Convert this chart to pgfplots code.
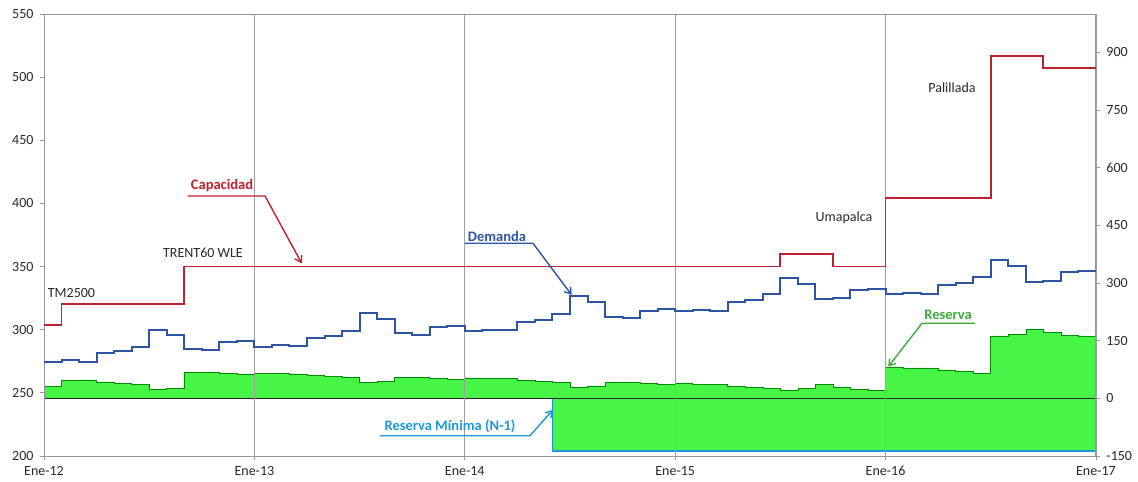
\documentclass[border=0pt]{standalone}
\usepackage{pgfplots}
\pgfplotsset{compat=1.18}
\usetikzlibrary{arrows.meta}
\usepackage{fontspec}
\setmainfont{Carlito}
\definecolor{capred}{RGB}{192,32,48}
\definecolor{demblue}{RGB}{46,84,166}
\definecolor{resgreen}{RGB}{70,245,70}
\definecolor{restext}{RGB}{60,170,60}
\definecolor{minblue}{RGB}{30,150,220}
\definecolor{axgray}{RGB}{150,150,150}
\definecolor{txt}{RGB}{40,40,40}

\pgfplotstableread{
m v
0 274.7
1 276
2 274.7
3 281.3
4 283.1
5 286.6
6 299.8
7 295.6
8 285
9 284
10 290.3
11 291.1
12 286.6
13 287.9
14 286.9
15 293.2
16 295
17 299.2
18 313
19 308.2
20 297.4
21 296
22 301.9
23 302.9
24 299.2
25 300
26 299.5
27 306.4
28 308
29 312.2
30 326.7
31 321.7
32 309.8
33 309
34 315
35 316.1
36 314.8
37 315.6
38 315
39 321.7
40 323.5
41 328.3
42 340.7
43 336.2
44 324.1
45 324.9
46 331.5
47 332.5
48 328
49 329.1
50 328.3
51 335.4
52 337.2
53 341.5
54 355.2
55 350.5
56 337.8
57 338.8
58 345.4
59 346.5
60 346.5
}\demanda

\pgfplotstableread{
m v
0 303.8
1 320.4
8 350
42 360
45 350
48 404
54 517
57 507
60 507
}\capacidad

\pgfplotstableread{
m v
0 30.4
1 45.9
2 47.8
3 42.6
4 39.1
5 35.6
6 23.5
7 26.9
8 66.8
9 67.7
10 65.1
11 63.4
12 65.1
13 64.3
14 63.4
15 59
16 57.4
17 53.7
18 40.7
19 44.4
20 54.8
21 54.8
22 51.2
23 49.6
24 53
25 51.2
26 51.2
27 47
28 44.4
29 40.7
30 28.8
31 32.2
32 41.8
33 40.7
34 38.1
35 37.3
36 38.1
37 37.3
38 36.5
39 31.4
40 29.5
41 25.1
42 21
43 25.1
44 37.3
45 29.5
46 22.5
47 21
48 80.8
49 79
50 79
51 73.8
52 70.3
53 65.1
54 162.3
55 167.4
56 179.7
57 170.9
58 164
59 162.3
60 162.3
}\reserva

\pgfplotstableread{
m v
0 0
29 -137
60 -137
}\resmin

\pgfplotstableread{
m v
29 -137
60 -137
}\resminfill

\begin{document}
\begin{tikzpicture}
% right axis: reserve
\begin{axis}[at={(0,0)}, anchor=south west, scale only axis,
  width=1052bp, height=442bp,
  xmin=0, xmax=60, ymin=-150, ymax=1000,
  axis x line=none, axis y line*=right,
  ytick={-150,0,150,300,450,600,750,900},
  y axis line style={draw=axgray, line width=1pt, -},
  tick align=outside, major tick length=4bp,
  tick style={axgray, line width=0.8pt},
  yticklabel style={font=\fontsize{14bp}{16bp}\selectfont, text=txt, xshift=3bp},
  /pgf/number format/assume math mode=true]
\addplot[const plot, fill=resgreen, draw=none] table[x=m,y=v] {\reserva} \closedcycle;
\addplot[const plot, fill=resgreen, draw=none] table[x=m,y=v] {\resminfill} \closedcycle;
\addplot[const plot, draw=green!55!black, line width=0.6pt] table[x=m,y=v] {\reserva};
\addplot[const plot, draw=minblue, line width=1.3pt] table[x=m,y=v] {\resmin};
\addplot[black!85, line width=1.6pt] coordinates {(0,0) (60,0)};
\end{axis}
% left axis: capacity and demand
\begin{axis}[at={(0,0)}, anchor=south west, scale only axis,
  width=1052bp, height=442bp,
  xmin=0, xmax=60, ymin=200, ymax=550,
  ytick={200,250,...,550},
  xtick={0,12,24,36,48,60},
  xticklabels={Ene-12,Ene-13,Ene-14,Ene-15,Ene-16,Ene-17},
  ytick pos=left, xtick pos=bottom,
  xmajorgrids, major grid style={axgray!90, line width=0.8pt},
  axis line style={draw=axgray, line width=1pt},
  tick align=outside, major tick length=4bp,
  tick style={axgray, line width=0.8pt},
  yticklabel style={font=\fontsize{14bp}{16bp}\selectfont, text=txt, xshift=-3bp},
  xticklabel style={font=\fontsize{14bp}{16bp}\selectfont, text=txt, yshift=-3bp},
  /pgf/number format/assume math mode=true]
\addplot[const plot, draw=demblue, line width=2pt] table[x=m,y=v] {\demanda};
\addplot[const plot, draw=capred, line width=1.8pt] table[x=m,y=v] {\capacidad};
\end{axis}
% annotations
\begin{scope}[x=1bp, y=1bp, font=\fontsize{14bp}{16bp}\selectfont]
\node[text=capred, font=\fontsize{14.5bp}{16bp}\selectfont\bfseries] at (178,270) {Capacidad};
\draw[capred, line width=1.4pt, -{Straight Barb[length=6bp,width=8bp]}] (144,260) -- (221,260) -- (257.7,192.7);
\node[text=txt] at (159,203) {TRENT60 WLE};
\node[text=txt] at (27.5,163) {TM2500};
\node[text=demblue, font=\fontsize{14.5bp}{16bp}\selectfont\bfseries] at (453,220) {Demanda};
\draw[demblue, line width=1.4pt, -{Straight Barb[length=6bp,width=8bp]}] (421,212.7) -- (489,212.7) -- (527.7,161);
\node[text=minblue, font=\fontsize{14.5bp}{16bp}\selectfont\bfseries] at (406,30) {Reserva Mínima (N-1)};
\draw[minblue, line width=1.4pt, -{Straight Barb[length=6bp,width=8bp]}] (336,20.3) -- (486,20.3) -- (508.7,46);
\node[text=txt] at (800,238) {Umapalca};
\node[text=txt] at (908,368) {Palillada};
\node[text=restext, font=\fontsize{14.5bp}{16bp}\selectfont\bfseries] at (904,141) {Reserva};
\draw[restext, line width=1.4pt, -{Straight Barb[length=6bp,width=8bp]}] (931,132.7) -- (878,132.7) -- (844.3,89.3);
\end{scope}
\pgfresetboundingbox
\path[use as bounding box] (-44bp,-26bp) rectangle (1094bp,456bp);
\end{tikzpicture}
\end{document}
